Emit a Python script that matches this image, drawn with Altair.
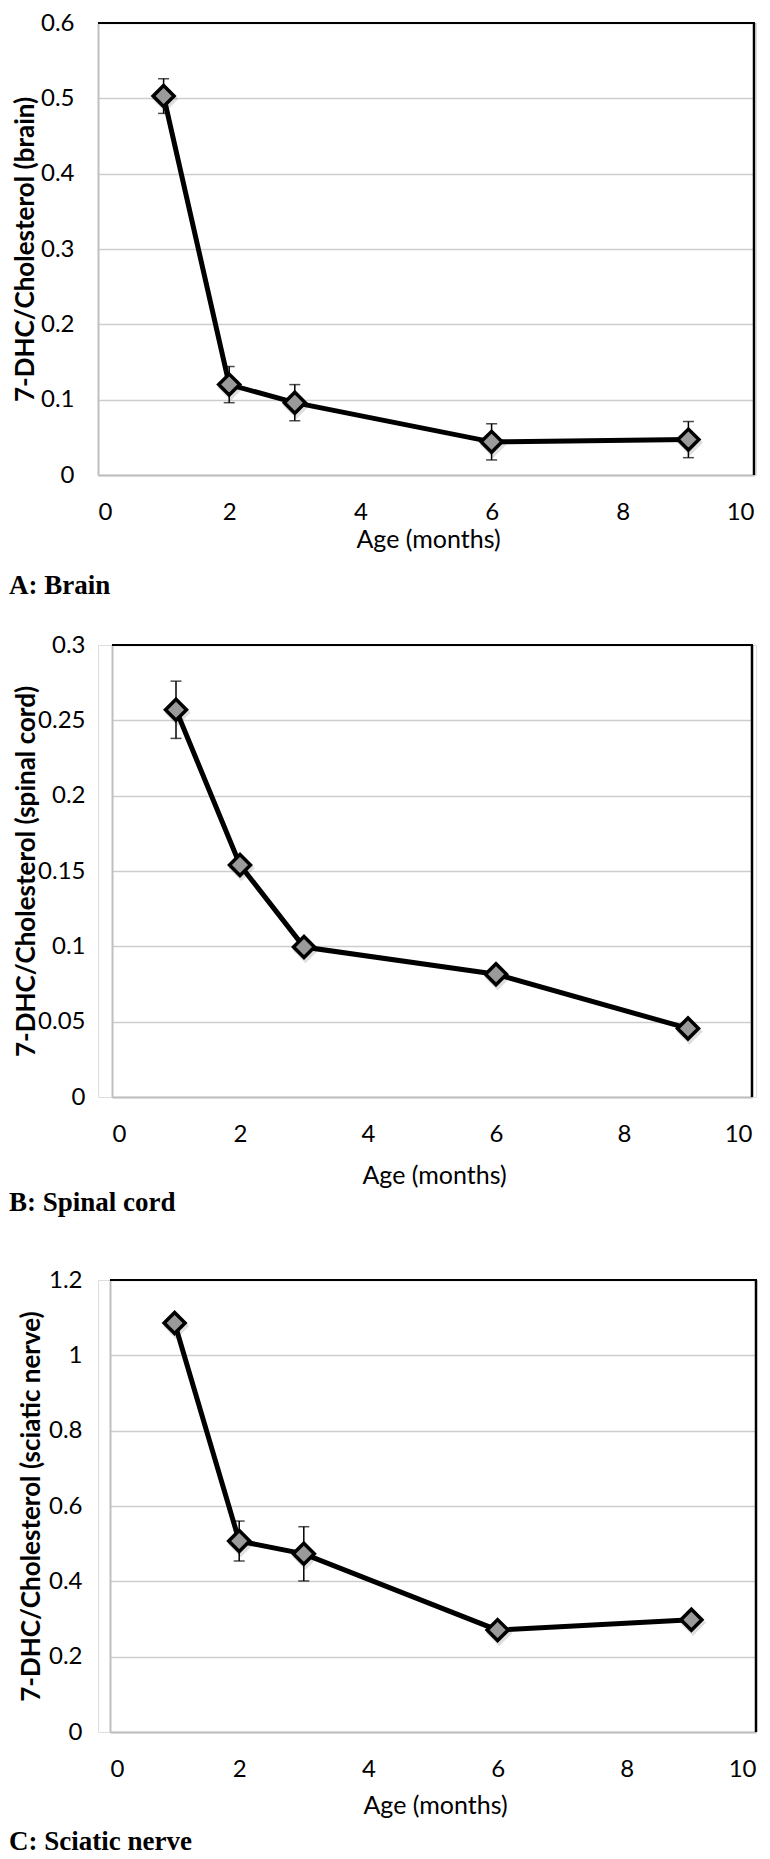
import altair as alt
import pandas as pd

# ---------------- data ----------------
ages = [1, 2, 3, 6, 9]

brain = [0.503, 0.120, 0.096, 0.044, 0.047]
brain_err = [0.023, 0.024, 0.024, 0.024, 0.024]

spinal = [0.257, 0.154, 0.0995, 0.0815, 0.0455]
spinal_err = [0.019, 0.0, 0.0, 0.0, 0.0]

sciatic = [1.086, 0.507, 0.473, 0.2705, 0.298]
sciatic_err = [0.0, 0.053, 0.072, 0.0, 0.0]

x_ticks = [0, 2, 4, 6, 8, 10]
brain_ticks = [0, 0.1, 0.2, 0.3, 0.4, 0.5, 0.6]
spinal_ticks = [0, 0.05, 0.1, 0.15, 0.2, 0.25, 0.3]
sciatic_ticks = [0, 0.2, 0.4, 0.6, 0.8, 1.0, 1.2]

titles = ["7-DHC/Cholesterol (brain)",
          "7-DHC/Cholesterol (spinal cord)",
          "7-DHC/Cholesterol (sciatic nerve)"]
captions = ["A: Brain", "B: Spinal cord", "C: Sciatic nerve"]
x_title = "Age (months)"

W = 658   # common group width
H = 452   # plot height


def panel(vals, errs, yticks, ytitle, caption, x0, x1, title_c, label_pad,
          xtitle_y, cap_y, top_ext, bot_ext):
    """x0/x1: left and right edge of the plot frame inside the group."""
    df = pd.DataFrame({"age": ages, "val": vals})
    eb = pd.DataFrame({"age": ages,
                       "val": [v - e for v, e in zip(vals, errs)],
                       "val2": [v + e for v, e in zip(vals, errs)],
                       "err": errs})
    eb = eb[eb["err"] > 0]
    caps = pd.concat([eb[["age", "val"]],
                      eb[["age", "val2"]].rename(columns={"val2": "val"})])
    one = pd.DataFrame({"t": [caption]})

    X = alt.X("age:Q",
              scale=alt.Scale(domain=[0, 10], nice=False, zero=False,
                              range=[x0, x1]),
              axis=alt.Axis(values=x_ticks, title=x_title, grid=False,
                            ticks=False, tickSize=0,
                            domainColor="#bfbfbf", domainWidth=2,
                            labelPadding=25, labelFontSize=24,
                            labelFont="Lato", labelColor="black",
                            titleFont="Lato", titleFontSize=25,
                            titleFontWeight="normal", titleColor="black",
                            titleX=(x0 + x1) / 2 + 2, titleY=xtitle_y,
                            titleBaseline="middle"))
    Y = alt.Y("val:Q",
              scale=alt.Scale(domain=[0, yticks[-1]], nice=False),
              axis=alt.Axis(values=yticks, format="~g", title=ytitle,
                            offset=-x0,
                            grid=True, gridColor="#cdcdcd", gridWidth=1.5,
                            ticks=False, tickSize=0,
                            domainColor="#bfbfbf", domainWidth=2,
                            labelPadding=label_pad, labelFontSize=24,
                            labelFont="Lato", labelColor="black",
                            titleFont="Lato", titleFontSize=26,
                            titleFontWeight="bold", titleColor="black",
                            titleX=title_c - x0, titleY=H / 2,
                            titleBaseline="middle", titleAngle=270))

    base = alt.Chart(df)
    layers = []
    if len(eb):
        layers.append(alt.Chart(eb).mark_rule(color="black", strokeWidth=1.5)
                      .encode(x=X, y=Y, y2="val2:Q"))
        layers.append(alt.Chart(caps).mark_tick(orient="horizontal", size=11,
                                                thickness=1.5, color="black")
                      .encode(x=X, y=Y))
    layers.append(base.mark_line(color="black", strokeWidth=5).encode(x=X, y=Y))
    layers.append(base.mark_point(shape="diamond", filled=True, color="black",
                                  opacity=0.13, size=700, xOffset=1.5, yOffset=3)
                  .encode(x=X, y=Y))
    layers.append(base.mark_point(shape="diamond", filled=True, fill="#9a9a9a",
                                  stroke="black", strokeWidth=3.5, size=440,
                                  opacity=1)
                  .encode(x=X, y=Y))
    # plot-area border (top and right are black in the reference)
    layers.append(alt.Chart(one).mark_rule(color="black", strokeWidth=2)
                  .encode(x=alt.value(x0), x2=alt.value(x1 + 1), y=alt.value(0)))
    layers.append(alt.Chart(one).mark_rule(color="black", strokeWidth=2.5)
                  .encode(x=alt.value(x1), y=alt.value(0), y2=alt.value(H)))
    # caption below the panel
    layers.append(alt.Chart(one).mark_text(align="left", baseline="middle",
                                           font="Liberation Serif", fontWeight="bold",
                                           fontSize=27, color="black")
                  .encode(x=alt.value(-89), y=alt.value(H + cap_y), text="t:N"))
    # invisible spacer that fixes the panel's vertical extent
    layers.append(alt.Chart(one).mark_rule(color="white", strokeOpacity=0, strokeWidth=0.1)
                  .encode(x=alt.value(x0 + 1), y=alt.value(-top_ext), y2=alt.value(H + bot_ext)))

    return alt.layer(*layers).properties(width=W, height=H)


# group origin sits at the left edge of panel A's frame; the other panels are
# shifted inside the group through their x ranges and y-axis offsets
pA = panel(brain, brain_err, brain_ticks, titles[0], captions[0],
           0, 656, -73, 24, 64, 111, 14, 155)
pB = panel(spinal, spinal_err, spinal_ticks, titles[1], captions[1],
           14, 654, -72, 27, 78, 106, 13, 168)
pC = panel(sciatic, sciatic_err, sciatic_ticks, titles[2], captions[2],
           12, 658, -67, 28, 73, 110, 13, 124)

chart = (alt.concat(pA, pB, pC, columns=1, spacing=0)
         .properties(padding={"left": 0, "top": 0, "right": 0, "bottom": 0})
         .configure_view(stroke=None)
         .configure(background="white"))

chart.save("out.html", embed_options={"renderer": "svg", "actions": False})
